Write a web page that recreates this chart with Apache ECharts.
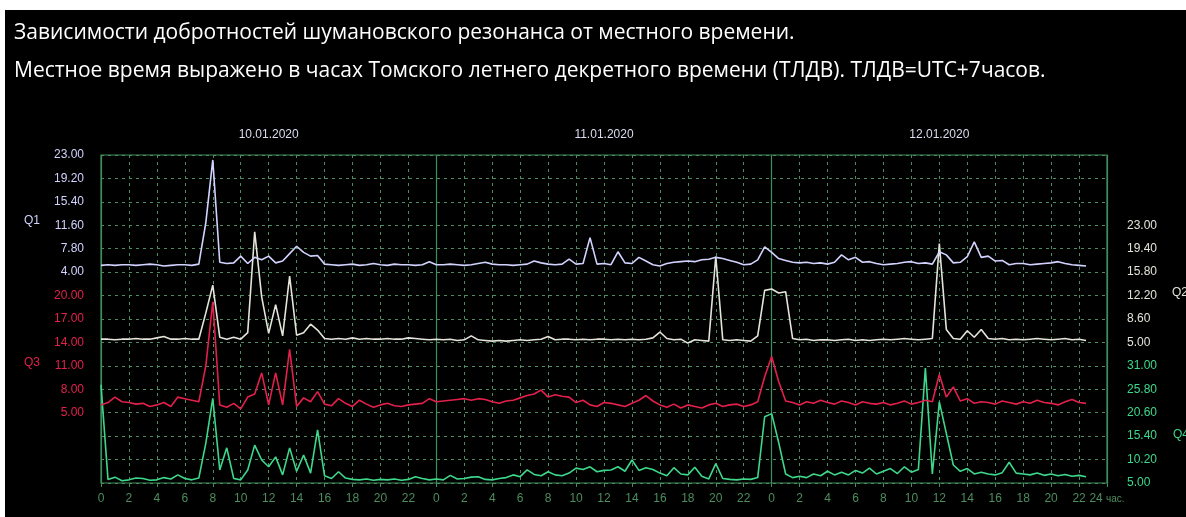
<!DOCTYPE html>
<html>
<head>
<meta charset="utf-8">
<script src="https://cdn.jsdelivr.net/npm/echarts@6/dist/echarts.min.js"></script>
<style>
  html, body { margin: 0; padding: 0; background: #ffffff; }
  #chart { width: 1186px; height: 517px; }
</style>
</head>
<body>
<div id="chart"></div>
<script>
// Heading text
const titleLine1 = 'Зависимости добротностей шумановского резонанса от местного времени.';
const titleLine2 = 'Местное время выражено в часах Томского летнего декретного времени (ТЛДВ). ТЛДВ=UTC+7часов.';

// Days shown along the top, one per 24 hours
const dayLabels = ['10.01.2020', '11.01.2020', '12.01.2020'];

// Tick labels of the four quality-factor scales
const q1Ticks = [4.00, 7.80, 11.60, 15.40, 19.20, 23.00];
const q2Ticks = [5.00, 8.60, 12.20, 15.80, 19.40, 23.00];
const q3Ticks = [5.00, 8.00, 11.00, 14.00, 17.00, 20.00];
const q4Ticks = [5.00, 10.20, 15.40, 20.60, 25.80, 31.00];

// Samples every half hour from 0 h of the first day (local time)
const stepHours = 0.5;

// Q1 (each row covers 6 hours)
const q1 = [
  5.1, 5.2, 5.1, 5.2, 5.2, 5.1, 5.2, 5.3, 5.2, 5.0, 5.1, 5.2,
  5.2, 5.1, 5.3, 12.0, 22.2, 5.6, 5.4, 5.5, 6.6, 5.4, 6.4, 6.0,
  6.6, 5.5, 5.8, 7.0, 8.2, 7.2, 6.6, 6.7, 5.3, 5.2, 5.1, 5.2,
  5.3, 5.1, 5.2, 5.4, 5.2, 5.1, 5.3, 5.2, 5.2, 5.1, 5.2, 5.7,
  5.2, 5.2, 5.3, 5.2, 5.1, 5.2, 5.4, 5.6, 5.3, 5.2, 5.2, 5.1,
  5.2, 5.3, 5.8, 5.5, 5.3, 5.2, 5.3, 6.1, 5.3, 5.4, 9.6, 5.3,
  5.4, 5.2, 7.3, 5.5, 5.4, 6.4, 5.8, 5.2, 5.0, 5.4, 5.6, 5.7,
  5.8, 5.7, 6.0, 6.1, 6.4, 6.2, 5.9, 5.6, 5.2, 5.3, 6.0, 8.1,
  7.2, 6.2, 5.9, 5.6, 5.5, 5.6, 5.4, 5.5, 5.3, 5.6, 6.8, 6.0,
  6.4, 5.6, 5.7, 5.4, 5.2, 5.3, 5.4, 5.6, 5.7, 5.4, 5.5, 5.3,
  7.3, 6.8, 5.5, 5.6, 6.5, 8.9, 6.4, 6.6, 5.8, 5.9, 5.2, 5.4,
  5.4, 5.2, 5.3, 5.4, 5.5, 5.7, 5.4, 5.2, 5.1, 5.0
];

// Q2
const q2 = [
  5.5, 5.5, 5.4, 5.5, 5.5, 5.6, 5.5, 5.5, 5.7, 5.9, 5.5, 5.5,
  5.6, 5.5, 5.5, 9.5, 13.8, 5.8, 5.5, 5.8, 5.5, 6.5, 22.0, 12.0,
  6.4, 10.8, 6.0, 15.2, 6.1, 6.5, 7.8, 6.9, 5.6, 5.5, 5.6, 5.5,
  5.7, 5.5, 5.6, 5.5, 5.5, 5.6, 5.5, 5.5, 5.7, 5.6, 5.5, 5.4,
  5.5, 5.4, 5.5, 5.3, 5.4, 6.0, 5.4, 5.3, 5.2, 5.3, 5.2, 5.3,
  5.4, 5.3, 5.4, 5.5, 5.9, 5.4, 5.5, 5.5, 5.4, 5.5, 5.4, 5.5,
  5.5, 5.4, 5.5, 5.4, 5.5, 5.4, 5.5, 5.7, 6.6, 5.6, 5.4, 5.5,
  4.9, 5.4, 5.3, 5.2, 18.2, 5.4, 5.3, 5.4, 5.3, 5.2, 6.0, 13.0,
  13.2, 12.6, 12.8, 5.6, 5.4, 5.5, 5.3, 5.4, 5.4, 5.3, 5.4, 5.5,
  5.3, 5.4, 5.3, 5.4, 5.5, 5.4, 5.5, 5.6, 5.5, 5.4, 5.5, 5.6,
  20.2, 7.0, 5.6, 5.5, 6.8, 5.8, 7.0, 5.6, 5.5, 5.6, 5.4, 5.5,
  5.4, 5.5, 5.6, 5.5, 5.4, 5.5, 5.6, 5.4, 5.5, 5.3
];

// Q3
const q3 = [
  6.0, 6.3, 7.0, 6.4, 6.3, 6.1, 6.2, 5.8, 6.0, 6.3, 5.8, 7.0,
  6.8, 6.6, 6.4, 11.0, 19.2, 6.0, 5.7, 6.2, 5.5, 7.0, 7.4, 10.1,
  6.0, 10.1, 6.0, 13.1, 5.8, 6.9, 6.4, 7.7, 6.1, 5.9, 6.8, 6.2,
  5.8, 6.6, 6.1, 5.7, 6.0, 6.2, 5.9, 5.8, 6.0, 6.1, 6.2, 6.8,
  6.4, 6.5, 6.6, 6.7, 6.8, 6.6, 6.8, 6.7, 6.4, 6.2, 6.5, 6.6,
  6.9, 7.2, 7.4, 7.9, 7.0, 7.3, 7.1, 7.0, 6.3, 6.6, 6.0, 5.8,
  6.3, 6.2, 6.0, 5.8, 6.2, 6.6, 7.2, 6.5, 6.0, 5.7, 6.1, 5.6,
  6.0, 5.8, 5.6, 6.0, 6.2, 5.8, 6.0, 6.1, 5.8, 6.0, 6.4, 9.6,
  12.2, 9.0, 6.5, 6.3, 6.0, 6.4, 6.2, 6.6, 6.3, 6.1, 6.5, 6.3,
  6.0, 6.4, 6.2, 6.1, 6.3, 6.0, 6.2, 6.5, 6.1, 6.3, 6.6, 6.4,
  9.9, 7.0, 8.3, 6.5, 6.8, 6.2, 6.4, 6.3, 6.1, 6.5, 6.3, 6.1,
  6.4, 6.2, 6.6, 6.3, 6.2, 6.0, 6.4, 6.7, 6.3, 6.2
];

// Q4
const q4 = [
  26.8, 5.8, 6.3, 5.5, 5.7, 6.1, 6.0, 5.6, 5.7, 6.2, 5.9, 6.8,
  6.0, 5.7, 6.1, 13.8, 23.8, 7.9, 12.8, 6.0, 5.7, 7.9, 13.4, 10.1,
  8.6, 10.8, 6.8, 12.8, 7.6, 11.2, 7.2, 16.8, 6.6, 6.0, 7.5, 6.1,
  5.8, 5.7, 5.9, 5.6, 5.8, 5.7, 5.9, 5.6, 5.8, 6.4, 6.0, 5.7,
  5.9, 5.7, 6.7, 5.9, 6.0, 6.3, 6.4, 5.8, 5.7, 6.0, 6.2, 6.8,
  6.4, 7.9, 6.9, 6.6, 7.5, 6.8, 6.6, 7.2, 8.3, 8.0, 8.6, 7.5,
  7.8, 7.9, 8.6, 7.6, 10.1, 7.8, 8.4, 8.0, 7.2, 6.6, 8.4, 7.0,
  6.8, 8.5, 6.5, 5.9, 9.3, 6.0, 5.8, 5.7, 5.9, 5.8, 6.2, 19.7,
  20.4, 14.0, 7.0, 6.2, 6.5, 6.2, 7.0, 6.6, 7.6, 6.8, 7.4, 6.8,
  7.8, 7.2, 8.3, 7.0, 7.6, 8.2, 7.1, 8.6, 7.4, 8.0, 30.5, 7.0,
  23.0, 16.0, 9.0, 7.6, 8.2, 7.0, 7.4, 7.0, 6.8, 7.3, 9.6, 7.2,
  7.0, 6.8, 7.2, 6.7, 7.0, 6.6, 6.9, 6.5, 6.7, 6.4
];

const GRID_GREEN = '#3f8f5e';
const DASH_GREEN = '#4f8c62';
const Q1_COLOR = '#d2d2ff';
const Q2_COLOR = '#e4e4da';
const Q3_COLOR = '#e3204b';
const Q4_COLOR = '#3ed88b';
const LABEL_FONT = '"Liberation Sans", Arial, sans-serif';
const TITLE_FONT = '21px "Open Sans", sans-serif';

const toPairs = (arr) => arr.map((v, i) => [i * stepHours, v]);

// The plot holds 14 grid rows; each scale occupies 5 of them.
// Q1: rows 0..5 (left), Q2: rows 3..8 (right), Q3: rows 6..11 (left), Q4: rows 9..14 (right)
function scaleAxis(ticks, topRow, position, color, margin) {
  const step = ticks[1] - ticks[0];
  const hi = ticks[ticks.length - 1] + topRow * step;
  const lo = ticks[0] - (14 - topRow - 5) * step;
  return {
    type: 'value', position: position, min: lo, max: hi,
    axisLine: { show: false }, axisTick: { show: false }, splitLine: { show: false },
    axisLabel: {
      customValues: ticks, color: color, fontFamily: LABEL_FONT, fontSize: 12,
      margin: margin, padding: [5, 0, 0, 0],
      formatter: (v) => v.toFixed(2)
    }
  };
}

const chart = echarts.init(document.getElementById('chart'), null, { renderer: 'canvas' });

chart.setOption({
  animation: false,
  backgroundColor: 'transparent',
  graphic: [
    { type: 'rect', z: -10, silent: true, shape: { x: 5, y: 10, width: 1181, height: 507 }, style: { fill: '#000000' } },
    { type: 'text', left: 14, top: 23, style: { text: titleLine1, fill: '#ffffff', font: TITLE_FONT } },
    { type: 'text', left: 14, top: 61, style: { text: titleLine2, fill: '#ffffff', font: TITLE_FONT } },
    { type: 'text', left: 24, top: 215, style: { text: 'Q1', fill: Q1_COLOR, font: '12px ' + LABEL_FONT } },
    { type: 'text', left: 24, top: 357, style: { text: 'Q3', fill: Q3_COLOR, font: '12px ' + LABEL_FONT } },
    { type: 'text', left: 1172, top: 287, style: { text: 'Q2', fill: Q2_COLOR, font: '12px ' + LABEL_FONT } },
    { type: 'text', left: 1173, top: 429, style: { text: 'Q4', fill: Q4_COLOR, font: '12px ' + LABEL_FONT } }
  ],
  grid: {
    left: 101, right: 79, top: 155, bottom: 34,
    show: true, borderColor: GRID_GREEN, borderWidth: 1.2, backgroundColor: 'transparent'
  },
  xAxis: [
    {
      type: 'value', min: 0, max: 72, interval: 2, position: 'bottom',
      axisLine: { show: false },
      axisTick: { show: true, length: 4, lineStyle: { color: GRID_GREEN } },
      splitLine: { show: true, lineStyle: { color: DASH_GREEN, type: [3, 4], width: 1 } },
      axisLabel: {
        color: '#4d8d5e', fontFamily: LABEL_FONT, fontSize: 12, margin: 10,
        formatter: (v) => v === 72 ? '{h|24} {u|час.}' : String(v % 24),
        rich: {
          h: { color: '#4d8d5e', fontFamily: LABEL_FONT, fontSize: 12 },
          u: { color: '#4d8d5e', fontFamily: LABEL_FONT, fontSize: 10 }
        }
      }
    },
    {
      type: 'value', min: 0, max: 72, interval: 24, position: 'top',
      axisLine: { show: false }, axisTick: { show: false },
      splitLine: { show: true, lineStyle: { color: GRID_GREEN, type: 'solid', width: 1.2 } },
      axisLabel: {
        customValues: dayLabels.map((_, i) => 12 + 24 * i),
        color: '#dcdcf2', fontFamily: LABEL_FONT, fontSize: 12, margin: 14,
        formatter: (v) => dayLabels[Math.round((v - 12) / 24)]
      }
    }
  ],
  yAxis: [
    {
      type: 'value', min: 0, max: 14, interval: 1, show: true,
      axisLine: { show: false }, axisTick: { show: false }, axisLabel: { show: false },
      splitLine: { show: true, lineStyle: { color: DASH_GREEN, type: [3, 4], width: 1 } }
    },
    scaleAxis(q1Ticks, 0, 'left', Q1_COLOR, 17),
    scaleAxis(q2Ticks, 3, 'right', Q2_COLOR, 20),
    scaleAxis(q3Ticks, 6, 'left', Q3_COLOR, 17),
    scaleAxis(q4Ticks, 9, 'right', Q4_COLOR, 20)
  ],
  series: [
    { name: 'Q4', type: 'line', yAxisIndex: 4, data: toPairs(q4), showSymbol: false, lineStyle: { color: Q4_COLOR, width: 1.6 } },
    { name: 'Q3', type: 'line', yAxisIndex: 3, data: toPairs(q3), showSymbol: false, lineStyle: { color: Q3_COLOR, width: 1.6 } },
    { name: 'Q2', type: 'line', yAxisIndex: 2, data: toPairs(q2), showSymbol: false, lineStyle: { color: Q2_COLOR, width: 1.6 } },
    { name: 'Q1', type: 'line', yAxisIndex: 1, data: toPairs(q1), showSymbol: false, lineStyle: { color: Q1_COLOR, width: 1.6 } }
  ]
});
</script>
</body>
</html>
